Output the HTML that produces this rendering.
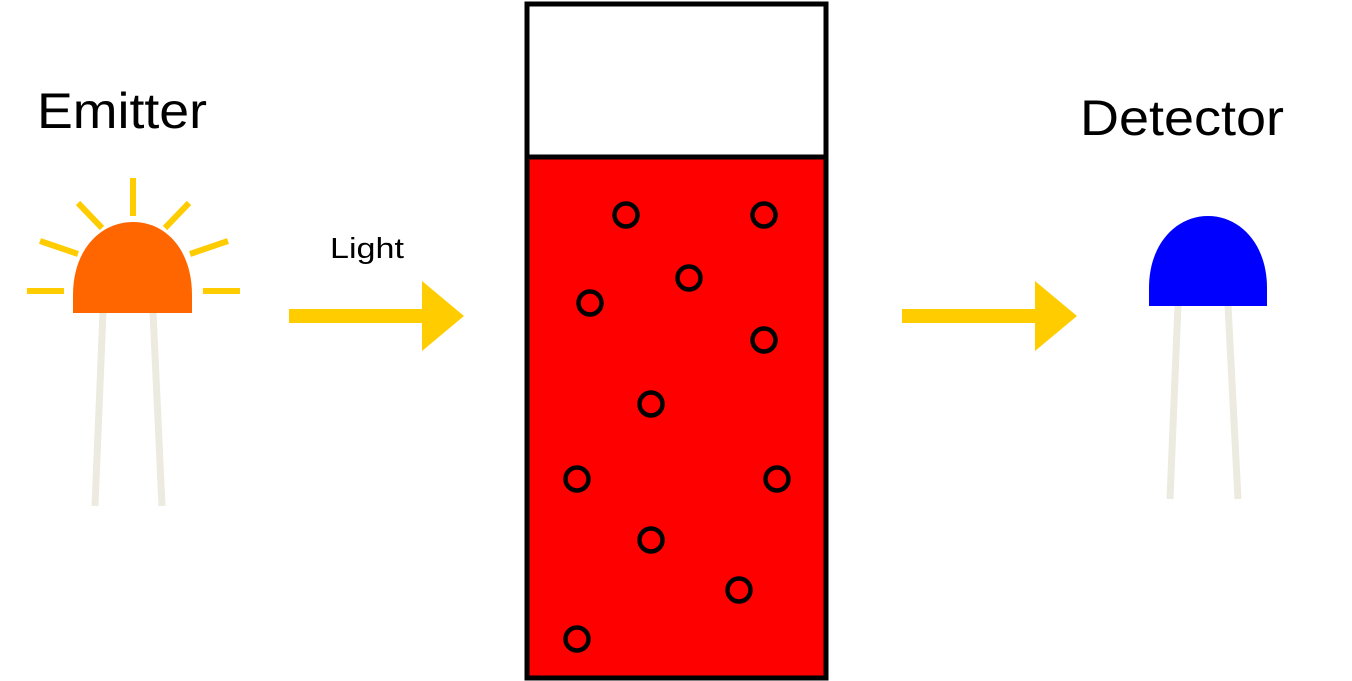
<!DOCTYPE html>
<html><head><meta charset="utf-8"><style>
html,body{margin:0;padding:0;background:#fff;width:1352px;height:681px;overflow:hidden}
svg{display:block}
text{font-family:"Liberation Sans",sans-serif;fill:#000}
</style></head><body>
<svg width="1352" height="681" viewBox="0 0 1352 681">
  <g>
    <text x="37" y="128" font-size="50" textLength="170" lengthAdjust="spacingAndGlyphs">Emitter</text>
    <g stroke="#FFCC00" stroke-width="6">
      <line x1="133" y1="178" x2="133" y2="216"/>
      <line x1="78" y1="203" x2="102" y2="228"/>
      <line x1="189" y1="203" x2="165" y2="228"/>
      <line x1="40" y1="241" x2="78" y2="254"/>
      <line x1="228" y1="241" x2="190" y2="254"/>
      <line x1="27" y1="291" x2="64" y2="291"/>
      <line x1="203" y1="291" x2="240" y2="291"/>
    </g>
    <g stroke="#EDEAE0" stroke-width="7">
      <line x1="103" y1="312" x2="95" y2="506"/>
      <line x1="153" y1="312" x2="162" y2="506"/>
    </g>
    <path d="M73,313 L73,295 C73,250 100,222 133,222 C166,222 192,250 192,295 L192,313 Z" fill="#FF6600"/>
  </g>
  <text x="330" y="258" font-size="29" textLength="74" lengthAdjust="spacingAndGlyphs">Light</text>
  <path d="M289,309 L422,309 L422,281 L464,316 L422,351 L422,323 L289,323 Z" fill="#FFCC00"/>
  <g>
    <rect x="527" y="157" width="299" height="521" fill="#FF0000"/>
    <rect x="527" y="4" width="299" height="674" fill="none" stroke="#000" stroke-width="5"/>
    <line x1="527" y1="157" x2="826" y2="157" stroke="#000" stroke-width="5"/>
    <g fill="none" stroke="#000" stroke-width="4.5">
      <circle cx="626" cy="215" r="11.5"/><circle cx="764" cy="215" r="11.5"/>
      <circle cx="689" cy="278" r="11.5"/><circle cx="590" cy="303" r="11.5"/>
      <circle cx="764" cy="340" r="11.5"/><circle cx="651" cy="404" r="11.5"/>
      <circle cx="577" cy="479" r="11.5"/><circle cx="777" cy="479" r="11.5"/>
      <circle cx="651" cy="540" r="11.5"/><circle cx="739" cy="590" r="11.5"/>
      <circle cx="577" cy="639" r="11.5"/>
    </g>
  </g>
  <path d="M902,309 L1035,309 L1035,281 L1077,316 L1035,351 L1035,323 L902,323 Z" fill="#FFCC00"/>
  <g>
    <text x="1080" y="135" font-size="50" textLength="204" lengthAdjust="spacingAndGlyphs">Detector</text>
    <g stroke="#EDEAE0" stroke-width="7">
      <line x1="1178" y1="305" x2="1170" y2="499"/>
      <line x1="1228" y1="305" x2="1238" y2="499"/>
    </g>
    <path d="M1149,306 L1149,288 C1149,244 1176,216 1208,216 C1240,216 1267,244 1267,288 L1267,306 Z" fill="#0000FF"/>
  </g>
</svg>
</body></html>
